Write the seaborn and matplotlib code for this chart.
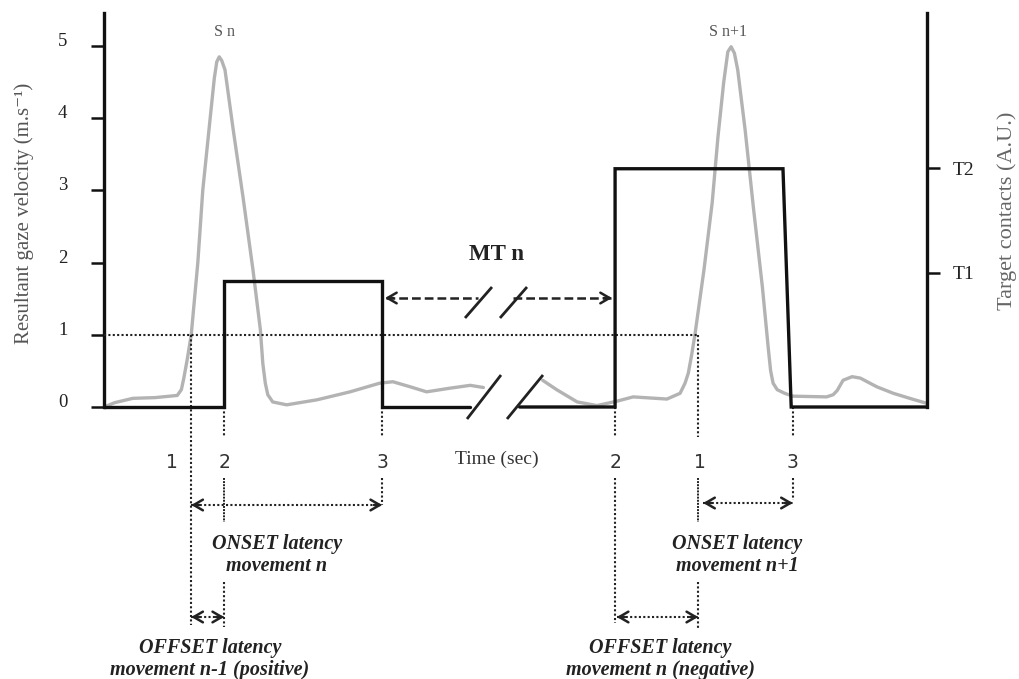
import matplotlib
matplotlib.use("Agg")
import matplotlib.pyplot as plt
import numpy as np
import pandas as pd
import seaborn as sns

# ---------------- data ----------------
# resultant gaze velocity (m.s-1); two segments separated by the time-axis break
gaze_t1 = [0, 1.3, 3.5, 6.2, 8.9, 9.4, 9.7, 10.1, 10.6, 11.4, 12.0, 12.9, 13.4, 13.7,
           14.0, 14.3, 14.7, 15.7, 16.9, 18.1, 19.0, 19.3, 19.6, 19.9, 20.5, 22.2,
           25.9, 29.9, 33.5, 35.1, 37.2, 39.2, 42.0, 44.5, 46.1]
gaze_v1 = [0.0, 0.06, 0.12, 0.13, 0.16, 0.24, 0.4, 0.65, 1.0, 2.0, 3.0, 4.0, 4.55, 4.78,
           4.85, 4.8, 4.67, 3.84, 2.9, 1.9, 1.07, 0.6, 0.33, 0.17, 0.07, 0.03,
           0.1, 0.21, 0.33, 0.35, 0.28, 0.21, 0.26, 0.3, 0.27]
gaze_t2 = [53.3, 55.0, 57.5, 59.9, 62.3, 64.3, 68.4, 70.0, 70.6, 71.0, 71.4, 71.8, 72.9,
           73.9, 74.6, 75.3, 75.8, 76.2, 76.6, 77.0, 77.9, 78.9, 80.0, 80.7, 81.0,
           81.3, 81.8, 82.7, 83.7, 87.8, 88.6, 89.1, 89.8, 90.9, 91.9, 93.9, 95.9,
           97.9, 100]
gaze_v2 = [0.37, 0.24, 0.07, 0.02, 0.08, 0.14, 0.11, 0.19, 0.33, 0.47, 0.72, 1.0, 1.9,
           2.83, 3.74, 4.5, 4.92, 4.99, 4.9, 4.67, 3.84, 2.77, 1.66, 0.83, 0.5,
           0.33, 0.24, 0.19, 0.15, 0.14, 0.17, 0.23, 0.37, 0.42, 0.4, 0.28, 0.19,
           0.12, 0.05]

# target contacts (step signal), two segments separated by the break
contact_t1 = [0, 14.6, 14.6, 33.8, 33.8, 44.5]
contact_v1 = [0, 0, 1.745, 1.745, 0, 0]
contact_t2 = [50.5, 62.1, 62.1, 82.5, 83.5, 100]
contact_v2 = [0, 0, 3.30, 3.30, 0, 0]

velocity_ticks = [0, 1, 2, 3, 4, 5]
contact_ticks = [1.86, 3.31]
contact_tick_labels = ["T1", "T2"]
threshold = 1.0

# event times (1 = velocity threshold, 2 = contact onset, 3 = contact offset)
t_cross_n = 10.6
t_on_n = 14.6
t_off_n = 33.8
t_on_n1 = 62.1
t_cross_n1 = 72.2
t_off_n1 = 83.7

peak_labels = ["S n", "S n+1"]
peak_times = [14.7, 75.8]

# ---------------- layout ----------------
sns.set_style("white")
plt.rcParams["font.family"] = ["Liberation Serif", "DejaVu Serif"]

W, H = 1019, 679
fig = plt.figure(figsize=(W / 100, H / 100), dpi=100)
ax = fig.add_axes([104 / W, 0, 823 / W, 1])

PX_T0, PX_T100 = 104, 927
PX_V0, PX_PER_V = 407, 72.2


def t_of(px):
    return (px - PX_T0) / (PX_T100 - PX_T0) * 100


def v_of(py):
    return (PX_V0 - py) / PX_PER_V


INK = "#222222"

gaze_df = pd.DataFrame({
    "time": gaze_t1 + gaze_t2,
    "velocity": gaze_v1 + gaze_v2,
    "segment": [0] * len(gaze_t1) + [1] * len(gaze_t2),
})
contact_df = pd.DataFrame({
    "time": contact_t1 + contact_t2,
    "level": contact_v1 + contact_v2,
    "segment": [0] * len(contact_t1) + [1] * len(contact_t2),
})

sns.lineplot(data=gaze_df, x="time", y="velocity", units="segment", estimator=None,
             sort=False, color="#b3b3b3", lw=2.4, ax=ax, legend=False, zorder=2,
             solid_joinstyle="round")
sns.lineplot(data=contact_df, x="time", y="level", units="segment", estimator=None,
             sort=False, color="#111111", lw=2.4, ax=ax, legend=False, zorder=4,
             solid_joinstyle="miter")

ax.set_xlim(0, 100)
ax.set_ylim(v_of(H), v_of(0))
ax.set_xlabel("")
ax.set_ylabel("")
ax.set_xticks([])
ax.set_yticks(velocity_ticks)
ax.set_yticklabels([str(v) for v in velocity_ticks])
ax.tick_params(axis="y", direction="out", length=9.4, width=1.8, pad=17,
               labelsize=13.5, color="#111111", labelcolor=INK, left=True)
for lbl in ax.get_yticklabels():
    lbl.set_verticalalignment("baseline")
for s in ["top", "right", "bottom"]:
    ax.spines[s].set_visible(False)
ax.spines["left"].set_bounds(0, v_of(13))
ax.spines["left"].set_linewidth(2.4)
ax.spines["left"].set_color("#111111")

ax2 = ax.twinx()
ax2.set_ylim(ax.get_ylim())
ax2.set_yticks(contact_ticks)
ax2.set_yticklabels(contact_tick_labels)
ax2.tick_params(axis="y", direction="out", length=9.4, width=1.8, pad=9,
                labelsize=14, color="#111111", labelcolor=INK, right=True)
for s in ["top", "left", "bottom"]:
    ax2.spines[s].set_visible(False)
ax2.spines["right"].set_bounds(0, v_of(13))
ax2.spines["right"].set_linewidth(2.4)
ax2.spines["right"].set_color("#111111")

DOT = (0, (1, 1.1))


def dline(xs, ys, ls=DOT, lw=1.5):
    ax.plot(xs, ys, color=INK, lw=lw, ls=ls, clip_on=False, zorder=3)


def head(x, y, direction):
    ax.annotate("", xy=(x, y), xytext=(x - direction * 1.0, y),
                arrowprops=dict(arrowstyle="->,head_length=0.55,head_width=0.32",
                                lw=1.8, color=INK, shrinkA=0, shrinkB=0,
                                mutation_scale=12),
                annotation_clip=False, zorder=5)


# threshold line
dline([0, t_cross_n1], [threshold, threshold])

y_gap_top = v_of(437)
y_gap_bot = v_of(478)

# vertical event lines
dline([t_cross_n, t_cross_n], [threshold, v_of(625)])
dline([t_on_n, t_on_n], [0, y_gap_top])
dline([t_on_n, t_on_n], [y_gap_bot, v_of(522)], ls=(0, (1, 0.6)), lw=1.4)
dline([t_on_n, t_on_n], [v_of(582), v_of(627)])
dline([t_off_n, t_off_n], [0, y_gap_top])
dline([t_off_n, t_off_n], [y_gap_bot, v_of(505)])
dline([t_on_n1, t_on_n1], [0, y_gap_top])
dline([t_on_n1, t_on_n1], [y_gap_bot, v_of(623)])
dline([t_cross_n1, t_cross_n1], [threshold, y_gap_top])
dline([t_cross_n1, t_cross_n1], [y_gap_bot, v_of(522)], ls=(0, (1, 0.6)), lw=1.4)
dline([t_cross_n1, t_cross_n1], [v_of(582), v_of(628)])
dline([t_off_n1, t_off_n1], [0, y_gap_top])
dline([t_off_n1, t_off_n1], [y_gap_bot, v_of(500)])

# latency double arrows
arrows = [
    (t_cross_n, t_off_n, v_of(505)),
    (t_cross_n1 + 0.6, t_off_n1, v_of(503)),
    (t_cross_n, t_on_n, v_of(617)),
    (t_on_n1 + 0.2, t_cross_n1, v_of(617)),
]
for a, b, y in arrows:
    dline([a, b], [y, y])
    head(a, y, -1)
    head(b, y, +1)

# MT arrow (dashed, broken)
y_mt = v_of(298)
DASH = (0, (3.5, 1.6))
dline([t_of(386), t_of(478)], [y_mt, y_mt], ls=DASH, lw=1.8)
dline([t_of(513), t_of(611)], [y_mt, y_mt], ls=DASH, lw=1.8)
head(t_of(385), y_mt, -1)
head(t_of(612), y_mt, +1)

# break marks
for (x0, y0, x1, y1) in [(465, 318, 492, 287), (500, 318, 527, 287),
                         (467, 419, 501, 375), (507, 419, 543, 375)]:
    ax.plot([t_of(x0), t_of(x1)], [v_of(y0), v_of(y1)], color=INK, lw=2.0,
            clip_on=False, zorder=5, solid_capstyle="butt")

# text
ax.text(t_of(497), v_of(255), "MT n", ha="center", va="center", fontsize=16.5,
        fontweight="bold", color=INK)
for lab, tt in zip(peak_labels, peak_times):
    ax.text(tt, v_of(32), lab, ha="center", va="center", fontsize=11.5,
            color="#555555")
ax.text(t_of(497), v_of(459), "Time (sec)", ha="center", va="center", fontsize=14,
        color="#333333")

event_labels = [("1", t_of(172)), ("2", t_on_n), ("3", t_off_n),
                ("2", t_on_n1), ("1", t_of(700)), ("3", t_off_n1)]
for lab, tt in event_labels:
    ax.text(tt, v_of(462), lab, ha="center", va="center", fontsize=13.5,
            color="#333333", family=["DejaVu Sans"])

bi = dict(ha="center", va="center", fontsize=14.5, fontweight="bold",
          fontstyle="italic", color=INK, linespacing=1.15)
ax.text(t_of(277), v_of(555), "ONSET latency\nmovement n", **bi)
ax.text(t_of(737), v_of(555), "ONSET latency\nmovement n+1", **bi)
ax.text(t_of(210), v_of(659), "OFFSET latency\nmovement n-1 (positive)", **bi)
ax.text(t_of(660), v_of(659), "OFFSET latency\nmovement n (negative)", **bi)

fig.text(24 / W, 1 - 213 / H, "Resultant gaze velocity (m.s⁻¹)", rotation=90,
         ha="center", va="center", fontsize=15, color="#555555")
fig.text(1007 / W, 1 - 211 / H, "Target contacts (A.U.)", rotation=90,
         ha="center", va="center", fontsize=16, color="#666666")

fig.savefig("out.png", dpi=100)
